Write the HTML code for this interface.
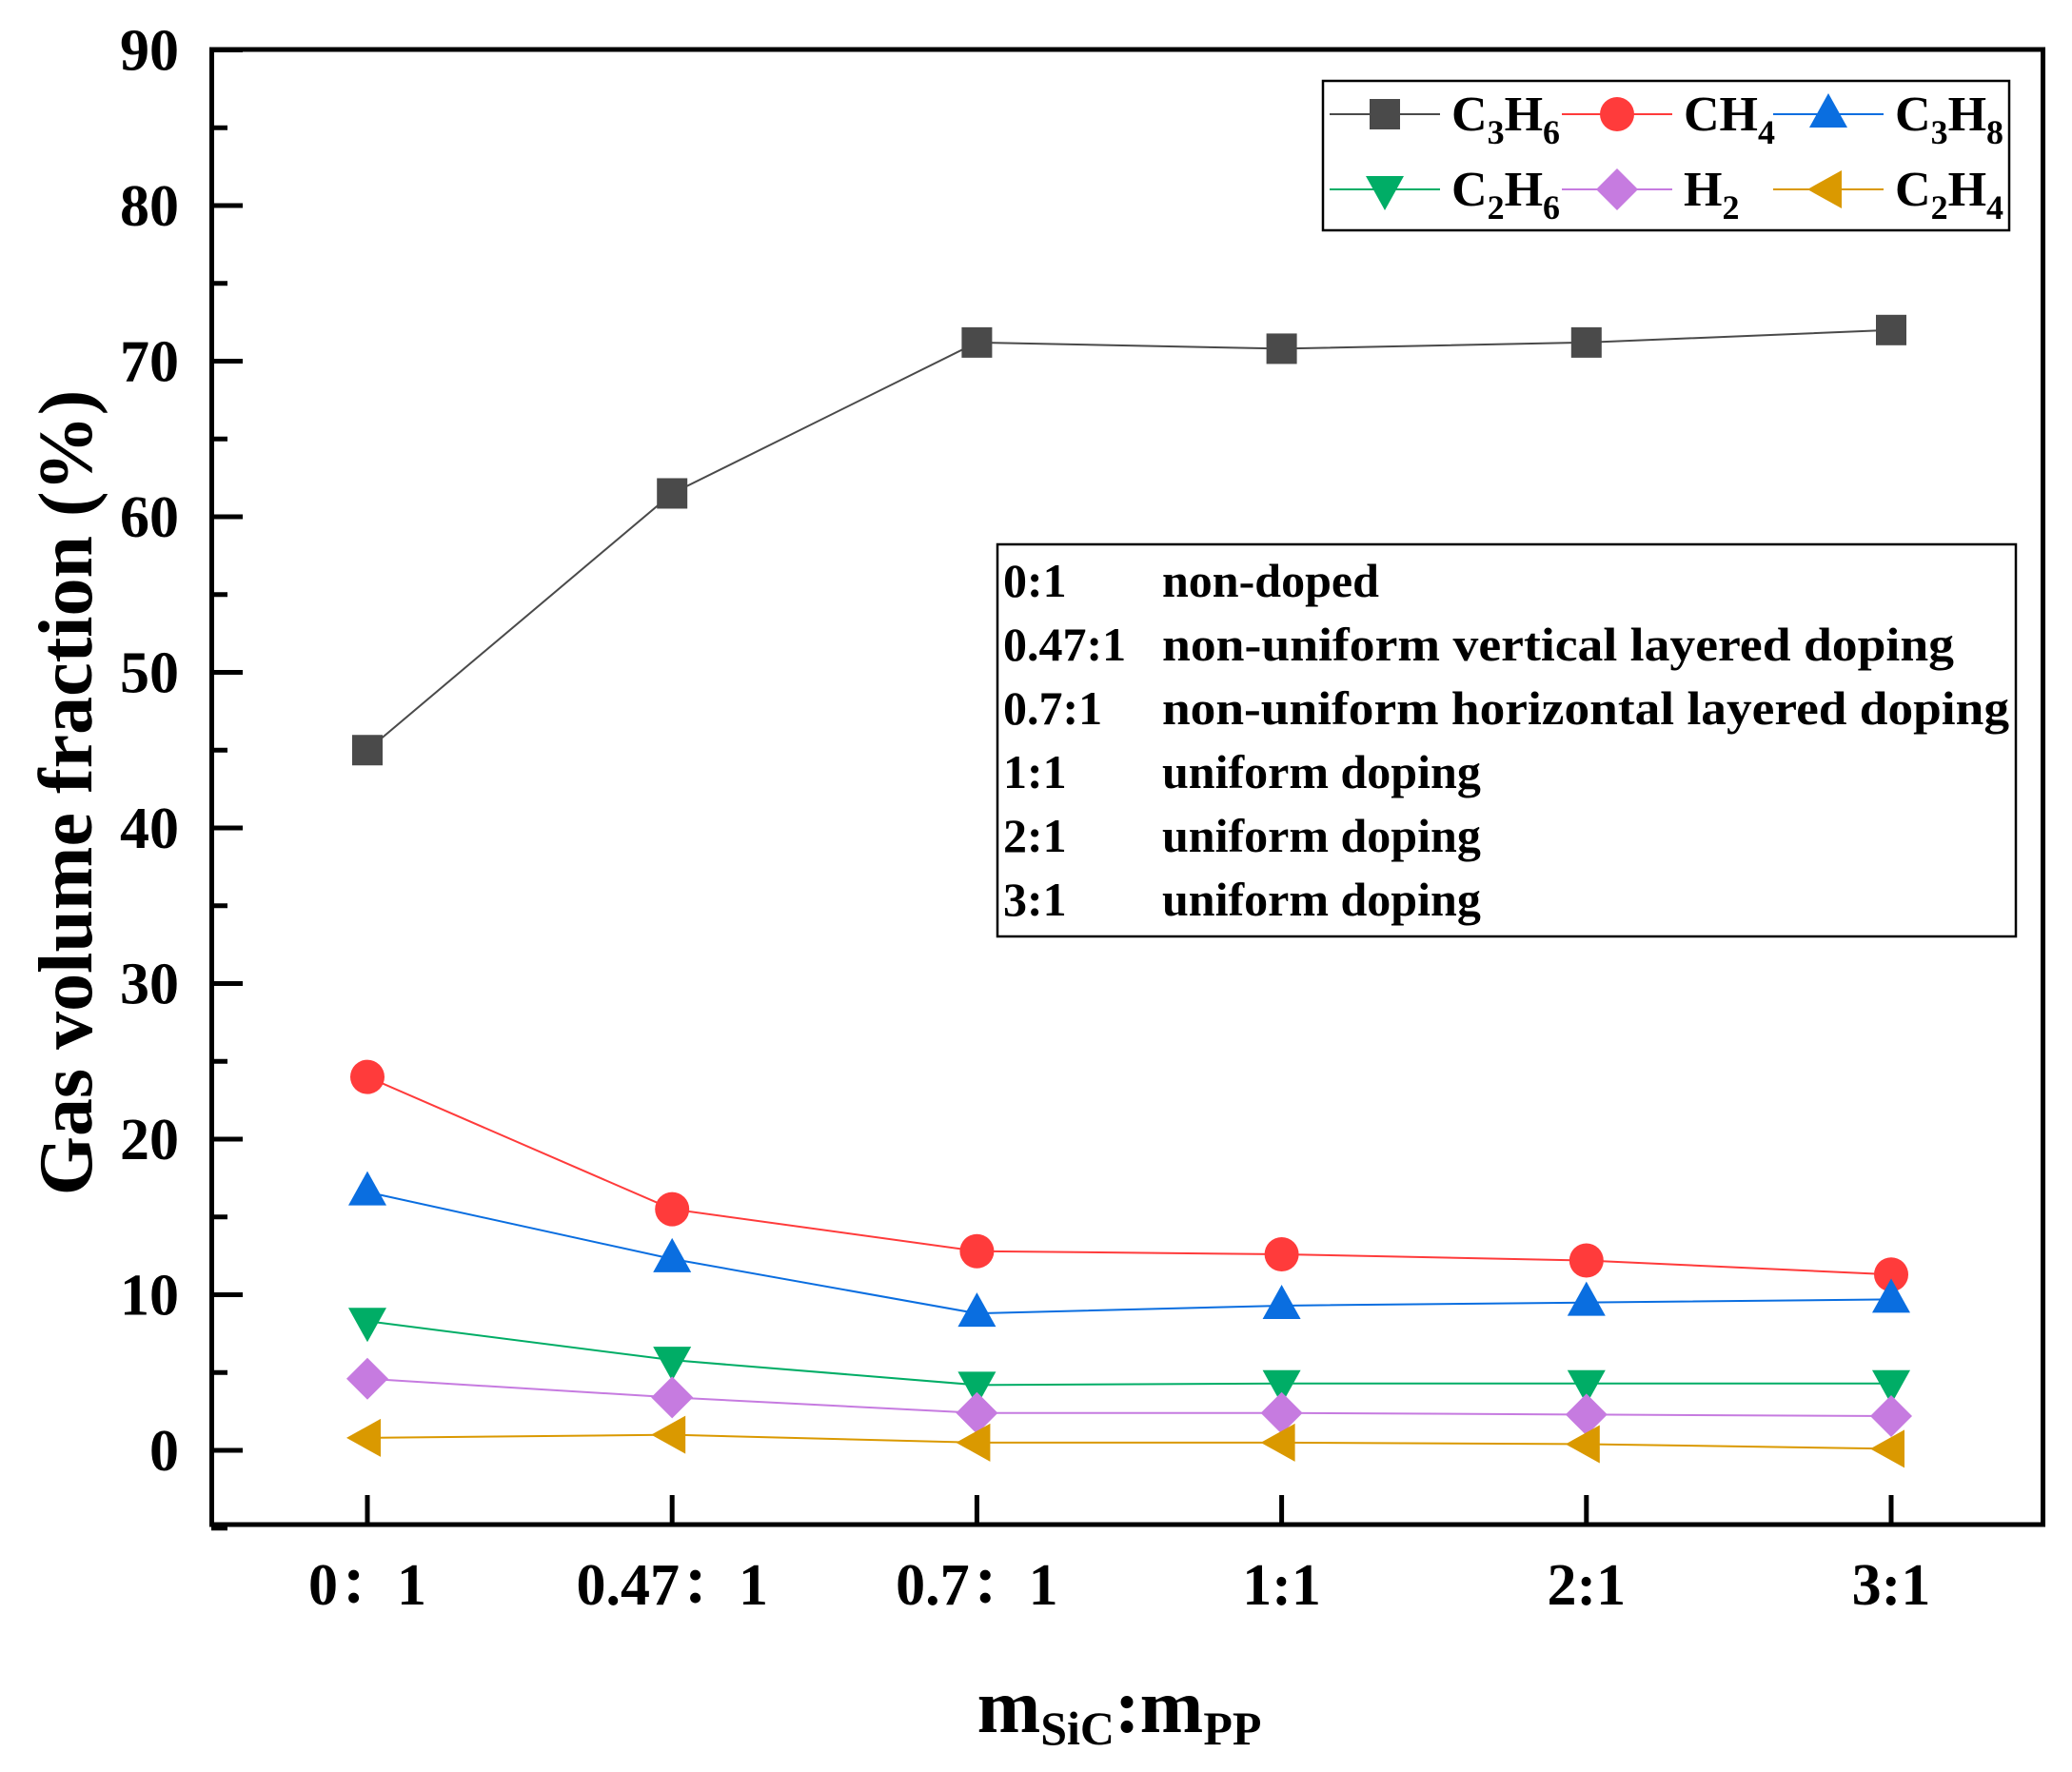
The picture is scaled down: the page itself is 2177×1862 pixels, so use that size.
<!DOCTYPE html>
<html><head><meta charset="utf-8"><style>
html,body{margin:0;padding:0;background:#fff;}
svg{display:block;font-family:"Liberation Serif","Noto Serif CJK SC",serif;font-weight:bold;}
</style></head><body>
<svg id="chart" width="2177" height="1862" viewBox="0 0 2177 1862" xmlns="http://www.w3.org/2000/svg">
<rect width="2177" height="1862" fill="#fff"/>
<g id="marks"></g>
<g id="axes"></g>
<rect x="222.5" y="52" width="1924" height="1550" fill="none" stroke="#000" stroke-width="5"/>
<text transform="translate(96,833) rotate(-90)" text-anchor="middle" font-size="80">Gas volume fraction (%)</text>
<text x="1176" y="1820" text-anchor="middle" font-size="80">m<tspan font-size="50" dy="13">SiC</tspan><tspan dy="-13">:m</tspan><tspan font-size="50" dy="13">PP</tspan></text>
<g>
<rect x="1390" y="85" width="721" height="157" fill="#fff" stroke="#000" stroke-width="2.5"/>
</g>
<g id="legend-items"></g>
<g>
<rect x="1048" y="572" width="1070" height="412" fill="#fff" stroke="#000" stroke-width="2.5"/>
<g font-size="50">
<text x="1054" y="627">0:1</text><text x="1221" y="627">non-doped</text>
<text x="1054" y="694">0.47:1</text><text x="1221" y="694" textLength="832" lengthAdjust="spacingAndGlyphs">non-uniform vertical layered doping</text>
<text x="1054" y="761">0.7:1</text><text x="1221" y="761" textLength="890" lengthAdjust="spacingAndGlyphs">non-uniform horizontal layered doping</text>
<text x="1054" y="828">1:1</text><text x="1221" y="828">uniform doping</text>
<text x="1054" y="895">2:1</text><text x="1221" y="895">uniform doping</text>
<text x="1054" y="962">3:1</text><text x="1221" y="962">uniform doping</text>
</g>
</g>
</svg>
<script>
const categories=["0\uFF1A1","0.47\uFF1A1","0.7\uFF1A1","1:1","2:1","3:1"];
const yTicks=[0,10,20,30,40,50,60,70,80,90];
const seriesNames=["C3H6","CH4","C3H8","C2H6","H2","C2H4"];
const c3h6=[45,61.5,71.2,70.8,71.2,72];
const ch4=[24,15.5,12.8,12.6,12.2,11.3];
const c3h8=[16.6,12.3,8.8,9.3,9.5,9.7];
const c2h6=[8.3,5.8,4.2,4.3,4.3,4.3];
const h2=[4.6,3.4,2.4,2.4,2.3,2.2];
const c2h4=[0.8,1.0,0.5,0.5,0.4,0.1];

const NS="http://www.w3.org/2000/svg";
function X(i){return 386+i*320.2;}
function Y(v){return 1524-v*16.35;}
function mk(tag,attrs,parent){const e=document.createElementNS(NS,tag);for(const k in attrs)e.setAttribute(k,attrs[k]);parent.appendChild(e);return e;}
const axes=document.getElementById('axes');
const marks=document.getElementById('marks');
yTicks.forEach(function(v){
  const t=mk('line',{x1:222,x2:255,y1:Y(v),y2:Y(v),stroke:'#000','stroke-width':5},axes);
  
  
  if(v<90){const m=mk('line',{x1:222,x2:239,y1:Y(v+5),y2:Y(v+5),stroke:'#000','stroke-width':5},axes);
  
  }
  const l=mk('text',{x:188,y:Y(v)+21,'text-anchor':'end','font-size':62},axes);
  l.textContent=v;
  
  
});
const m2=mk('line',{x1:222,x2:239,y1:Y(-5),y2:Y(-5),stroke:'#000','stroke-width':5},axes);


categories.forEach(function(c,i){
  const t=mk('line',{x1:X(i),x2:X(i),y1:1602,y2:1571,stroke:'#000','stroke-width':5},axes);
  
  
  const l=mk('text',{x:X(i),y:1686,'text-anchor':'middle','font-size':62},axes);
  l.textContent=c;
  
  
});
const colors=["#4a4a4a","#ff3b3b","#0a6ee0","#00ad66","#c67be0","#da9900"];
const shapes=["square","circle","up","down","diamond","left"];
const data=[c3h6,ch4,c3h8,c2h6,h2,c2h4];
function marker(shape,x,y,col,parent){
  let e;
  if(shape==='square')e=mk('rect',{x:x-16,y:y-16,width:32,height:32,fill:col},parent);
  else if(shape==='circle')e=mk('ellipse',{cx:x,cy:y,rx:18,ry:18,fill:col},parent);
  else if(shape==='up')e=mk('polygon',{points:`${x},${y-22} ${x+20},${y+14} ${x-20},${y+14}`,fill:col},parent);
  else if(shape==='down')e=mk('polygon',{points:`${x},${y+22} ${x+20},${y-14} ${x-20},${y-14}`,fill:col},parent);
  else if(shape==='diamond')e=mk('polygon',{points:`${x},${y-22} ${x+22},${y} ${x},${y+22} ${x-22},${y}`,fill:col},parent);
  else e=mk('polygon',{points:`${x-22},${y} ${x+14},${y-20} ${x+14},${y+20}`,fill:col},parent);
  return e;
}
data.forEach(function(vals,s){
  const pts=vals.map(function(v,i){return X(i)+','+Y(v);}).join(' ');
  const pl=mk('polyline',{points:pts,fill:'none',stroke:colors[s],'stroke-width':2},marks);
  
  
});
data.forEach(function(vals,s){
  vals.forEach(function(v,i){
    const m=marker(shapes[s],X(i),Y(v),colors[s],marks);
    
    
  });
});
const lg=document.getElementById('legend-items');
const labels=[["C","3","H","6"],["CH","4","",""],["C","3","H","8"],["C","2","H","6"],["H","2","",""],["C","2","H","4"]];
const colX=[1397,1641,1863];
const rowY=[120,199];
labels.forEach(function(lb,k){
  const cx=colX[k%3],cy=rowY[Math.floor(k/3)];
  const ln=mk('line',{x1:cx,x2:cx+116,y1:cy,y2:cy,stroke:colors[k],'stroke-width':2},lg);
  
  
  const m=marker(shapes[k],cx+58,cy,colors[k],lg);
  
  
  const t=mk('text',{x:cx+128,y:cy+17,'font-size':52},lg);
  
  
  t.innerHTML=lb[0]+'<tspan font-size="36" dy="14">'+lb[1]+'</tspan>'+(lb[2]?'<tspan dy="-14">'+lb[2]+'</tspan><tspan font-size="36" dy="14">'+lb[3]+'</tspan>':'');
});
</script>
</body></html>
